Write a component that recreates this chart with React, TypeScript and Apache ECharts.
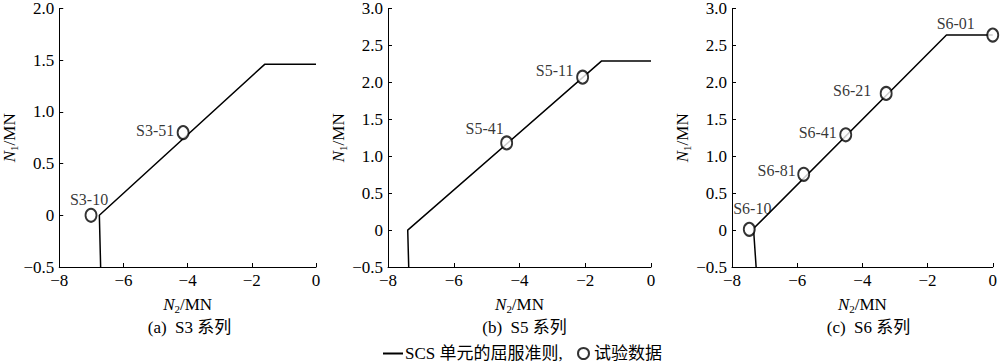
import React, { useEffect, useRef } from "react";
import * as echarts from "echarts";

const xTicks = [-8, -6, -4, -2, 0];
const yRangeA = [-0.5, 2.0];
const yRangeBC = [-0.5, 3.0];

const criterionA: [number, number][] = [[-6.71, -0.5], [-6.75, 0], [-1.6, 1.46], [0, 1.46]];
const criterionB: [number, number][] = [[-7.37, -0.5], [-7.4, 0], [-1.5, 2.29], [0, 2.29]];
const criterionC: [number, number][] = [[-7.26, -0.5], [-7.34, 0.02], [-1.42, 2.64], [0, 2.64]];

const testNamesA = ["S3-10", "S3-51"];
const testXA = [-7.01, -4.14];
const testYA = [0.0, 0.8];

const testNamesB = ["S5-41", "S5-11"];
const testXB = [-4.39, -2.08];
const testYB = [1.18, 2.07];

const testNamesC = ["S6-10", "S6-81", "S6-41", "S6-21", "S6-01"];
const testXC = [-7.47, -5.8, -4.51, -3.27, 0];
const testYC = [0.01, 0.755, 1.29, 1.85, 2.64];

const captions = ["(a)  S3 系列", "(b)  S5 系列", "(c)  S6 系列"];
const lineName = "SCS 单元的屈服准则,";
const pointName = "试验数据";

const FONT = "Liberation Serif, Times New Roman, Noto Sans CJK SC, serif";

// label offsets per point (layout only)
const labelOffA = [[-2, -16], [-28, -2]];
const labelOffB = [[-22, -14], [-28, -7]];
const labelOffC = [[3, -21], [-27, -4], [-28, -2], [-34, -3], [-37, -12]];

const grids = [
  { left: 53, top: 8, width: 263, height: 259 },
  { left: 388, top: 8, width: 263, height: 259 },
  { left: 732, top: 8, width: 263, height: 259 },
];

function buildPoints(names: string[], xs: number[], ys: number[], offs: number[][]) {
  return names.map((n, i) => ({
    name: n,
    value: [xs[i], ys[i]],
    label: {
      show: true,
      formatter: n,
      position: "inside",
      offset: offs[i],
      align: "center",
      verticalAlign: "middle",
      color: "#000",
      textBorderWidth: 0,
      textBorderColor: "transparent",
      fontFamily: FONT,
      fontSize: 16,
    },
  }));
}

export default function App() {
  const ref = useRef<HTMLDivElement>(null);
  useEffect(() => {
    if (!ref.current) return;
    const chart = echarts.init(ref.current, undefined, { renderer: "svg" });
    const yRanges = [yRangeA, yRangeBC, yRangeBC];
    const yNameGaps = [38, 38, 31];
    const richName = {
      i: { fontStyle: "italic", fontFamily: FONT, fontSize: 17, color: "#000" },
      s: { fontFamily: FONT, fontSize: 11, verticalAlign: "bottom", padding: [9, 0, 0, 0], color: "#000" },
      t: { fontFamily: FONT, fontSize: 17, color: "#000" },
    };
    const xAxis = grids.map((_, i) => ({
      type: "value",
      gridIndex: i,
      min: xTicks[0],
      max: xTicks[xTicks.length - 1],
      interval: 2,
      name: "{i|N}{s|2}{t|/MN}",
      nameLocation: "middle",
      nameGap: 28,
      nameTextStyle: { color: "#000", fontFamily: FONT, fontSize: 17, rich: richName },
      axisLine: { show: true, onZero: false, lineStyle: { color: "#000", width: 1 } },
      axisTick: { show: true, inside: true, length: 4, lineStyle: { color: "#000" } },
      splitLine: { show: false },
      axisLabel: {
        color: "#000",
        fontFamily: FONT,
        fontSize: 17,
        margin: 5,
        formatter: (v: number) => (v < 0 ? "\u2212" + Math.abs(v) : String(v)),
      },
    }));
    const yAxis = grids.map((_, i) => ({
      type: "value",
      gridIndex: i,
      min: yRanges[i][0],
      max: yRanges[i][1],
      interval: 0.5,
      name: "{i|N}{s|1}{t|/MN}",
      nameLocation: "middle",
      nameGap: yNameGaps[i],
      nameRotate: 90,
      nameTextStyle: { color: "#000", fontFamily: FONT, fontSize: 17, rich: richName },
      axisLine: { show: true, onZero: false, lineStyle: { color: "#000", width: 1 } },
      axisTick: { show: true, inside: true, length: 4, lineStyle: { color: "#000" } },
      splitLine: { show: false },
      axisLabel: {
        color: "#000",
        fontFamily: FONT,
        fontSize: 17,
        margin: 5,
        formatter: (v: number) => {
          if (v === 0) return "0";
          const s = Math.abs(v).toFixed(1);
          return v < 0 ? "\u2212" + s : s;
        },
      },
    }));
    const lines = [criterionA, criterionB, criterionC];
    const pts = [
      buildPoints(testNamesA, testXA, testYA, labelOffA),
      buildPoints(testNamesB, testXB, testYB, labelOffB),
      buildPoints(testNamesC, testXC, testYC, labelOffC),
    ];
    const series: any[] = [];
    for (let i = 0; i < 3; i++) {
      series.push({
        name: lineName,
        type: "line",
        xAxisIndex: i,
        yAxisIndex: i,
        data: lines[i],
        symbol: "none",
        lineStyle: { color: "#000", width: 1.5 },
        itemStyle: { color: "#000" },
        z: 2,
      });
      series.push({
        name: pointName,
        type: "scatter",
        xAxisIndex: i,
        yAxisIndex: i,
        data: pts[i],
        symbol: "emptyCircle",
        symbolSize: [11, 13],
        clip: false,
        itemStyle: { color: "#000", borderColor: "#000", borderWidth: 1.4 },
        z: 3,
      });
    }
    const centers = grids.map((g) => g.left + g.width / 2);
    chart.setOption({
      animation: false,
      backgroundColor: "#fff",
      grid: grids.map((g) => ({ ...g, containLabel: false })),
      xAxis,
      yAxis,
      series,
      title: captions.map((c, i) => ({
        text: c,
        left: centers[i],
        top: 314,
        textAlign: "center",
        textStyle: { color: "#000", fontFamily: FONT, fontSize: 17, fontWeight: "normal" },
      })),
      legend: [
        {
          data: [{ name: lineName, icon: "rect" }],
          left: 378,
          top: 340,
          itemWidth: 20,
          itemHeight: 2,
          itemGap: 4,
          textStyle: { color: "#000", fontFamily: FONT, fontSize: 17, padding: [0, 0, 0, -3] },
          itemStyle: { color: "#000" },
        },
        {
          data: [{ name: pointName, icon: "emptyCircle" }],
          left: 572,
          top: 340,
          itemWidth: 11,
          itemHeight: 11,
          textStyle: { color: "#000", fontFamily: FONT, fontSize: 17 },
          itemStyle: { color: "#000", borderColor: "#000", borderWidth: 1.4 },
        },
      ],
    });
    return () => chart.dispose();
  }, []);
  return (
    <div
      ref={ref}
      style={{ position: "fixed", left: 0, top: 0, width: 1000, height: 363, background: "#fff" }}
    />
  );
}
